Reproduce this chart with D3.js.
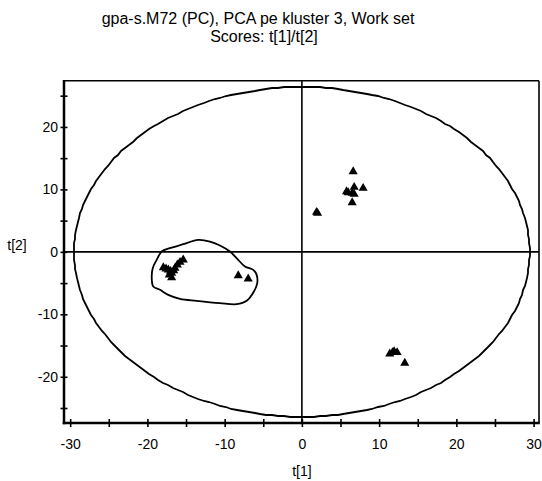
<!DOCTYPE html>
<html>
<head>
<meta charset="utf-8">
<script src="https://cdn.jsdelivr.net/npm/d3@7"></script>
<style>
  html, body { margin: 0; padding: 0; background: #fff; }
  svg { display: block; }
  text { font-family: "Liberation Sans", Arial, sans-serif; fill: #000; }
</style>
</head>
<body>
<svg id="chart" width="542" height="481"></svg>
<script>
// ---- data ----
const titleLines = ["gpa-s.M72 (PC), PCA pe kluster 3, Work set", "Scores: t[1]/t[2]"];
const xLabel = "t[1]";
const yLabel = "t[2]";
const xDomain = [-30.8, 30.7];
const yDomain = [-27.4, 27.4];
const xTicks = [-30, -25, -20, -15, -10, -5, 0, 5, 10, 15, 20, 25, 30];
const xTickLabels = [-30, -20, -10, 0, 10, 20, 30];
const yTicks = [-25, -20, -15, -10, -5, 0, 5, 10, 15, 20, 25];
const yTickLabels = [-20, -10, 0, 10, 20];

// score values t[1]
const t1 = [
  -17.94, -17.59, -17.30, -17.17, -16.86, -16.86, -16.43, -16.13, -15.78, -15.36, -17.0, -16.6,
  -8.24, -6.95,
  6.64, 5.78, 5.99, 6.77, 6.51, 6.77, 7.93, 6.51, 2.03, 1.90,
  11.38, 11.73, 11.94, 12.33, 13.32
];
// score values t[2]
const t2 = [
  -2.51, -2.72, -2.88, -3.68, -3.41, -4.11, -2.61, -2.08, -1.65, -1.28, -3.1, -3.0,
  -3.79, -4.32,
  12.85, 9.65, 9.49, 10.35, 9.39, 9.23, 10.19, 7.89, 6.19, 6.35,
  -16.32, -16.11, -15.95, -16.11, -17.81
];

// hand-drawn group outline (t[1], t[2])
const outlineX = [-18.15, -17.08, -15.36, -13.42, -11.90, -10.61, -9.31, -8.45, -7.37, -6.30, -5.86, -5.78,
  -6.21, -7.15, -8.45, -10.61, -13.62, -15.78, -17.30, -18.37, -19.24, -19.44, -19.31, -18.80];
const outlineY = [0.05, 0.59, 1.23, 1.92, 1.65, 1.01, 0.05, -1.01, -2.35, -2.88, -3.68, -5.01,
  -6.35, -7.84, -8.37, -8.21, -7.84, -7.52, -6.88, -6.08, -5.55, -4.21, -2.61, -1.28];

// Hotelling T2 ellipse semi-axes
const ellipseA = 29.5;
const ellipseB = 26.4;

// ---- drawing ----
const svg = d3.select("#chart");
const plot = { left: 64, right: 539, top: 80.7, bottom: 423 };

const x = d3.scaleLinear().domain(xDomain).range([plot.left, plot.right]);
const y = d3.scaleLinear().domain(yDomain).range([plot.bottom, plot.top]);

// title
svg.append("text").attr("x", 258).attr("y", 24).attr("text-anchor", "middle")
  .style("font-size", "16px").text(titleLines[0]);
svg.append("text").attr("x", 264).attr("y", 42).attr("text-anchor", "middle")
  .style("font-size", "16px").text(titleLines[1]);

// zero lines
svg.append("line").attr("x1", plot.left).attr("x2", plot.right)
  .attr("y1", y(0)).attr("y2", y(0)).attr("stroke", "#000").attr("stroke-width", 1.6);
svg.append("line").attr("x1", x(0)).attr("x2", x(0))
  .attr("y1", plot.top).attr("y2", plot.bottom).attr("stroke", "#000").attr("stroke-width", 1.6);

// ellipse
const ellPts = d3.range(0, 361, 1.5).map(a => {
  const r = a * Math.PI / 180;
  return [Math.round(x(ellipseA * Math.cos(r))), Math.round(y(ellipseB * Math.sin(r)))];
});
svg.append("path").attr("d", d3.line()(ellPts))
  .attr("fill", "none").attr("stroke", "#000").attr("stroke-width", 1.8);

// outline
const outlinePts = outlineX.map((v, i) => [x(v), y(outlineY[i])]);
svg.append("path").attr("d", d3.line().curve(d3.curveCatmullRomClosed.alpha(0.5))(outlinePts))
  .attr("fill", "none").attr("stroke", "#000").attr("stroke-width", 1.8);

// points
const sym = d3.symbol().type(d3.symbolTriangle).size(36);
svg.append("g").selectAll("path").data(t1).join("path")
  .attr("transform", (d, i) => `translate(${x(d)},${y(t2[i])})`)
  .attr("d", sym).attr("fill", "#000");

// frame
svg.append("line").attr("x1", plot.left).attr("x2", plot.right).attr("y1", plot.top).attr("y2", plot.top)
  .attr("stroke", "#000").attr("stroke-width", 1.6);
svg.append("line").attr("x1", plot.right).attr("x2", plot.right).attr("y1", plot.top).attr("y2", plot.bottom)
  .attr("stroke", "#000").attr("stroke-width", 1.6);

// bottom axis
const xAxis = d3.axisBottom(x).tickValues(xTicks).tickSizeOuter(0).tickSizeInner(4)
  .tickFormat(d => xTickLabels.includes(d) ? String(d) : "");
const gx = svg.append("g").attr("transform", `translate(0,${plot.bottom})`).call(xAxis);
gx.select(".domain").remove();
gx.selectAll(".tick line").attr("y1", -4).attr("y2", 4).attr("stroke-width", 1.6);
gx.selectAll(".tick text").attr("y", 16).attr("dy", "0.71em").style("font-size", "14px").attr("font-family", null);
svg.append("line").attr("x1", plot.left - 1.25).attr("x2", plot.right + 0.8)
  .attr("y1", plot.bottom).attr("y2", plot.bottom).attr("stroke", "#000").attr("stroke-width", 2.5);

// left axis
const yAxis = d3.axisLeft(y).tickValues(yTicks).tickSizeOuter(0).tickSizeInner(4)
  .tickFormat(d => yTickLabels.includes(d) ? String(d) : "");
const gy = svg.append("g").attr("transform", `translate(${plot.left},0)`).call(yAxis);
gy.select(".domain").remove();
gy.selectAll(".tick line").attr("x1", -3.5).attr("x2", 3.5).attr("stroke-width", 1.6);
gy.selectAll(".tick text").attr("x", -6).style("font-size", "14px").attr("font-family", null);
svg.append("line").attr("x1", plot.left).attr("x2", plot.left)
  .attr("y1", plot.top - 0.8).attr("y2", plot.bottom + 1.25).attr("stroke", "#000").attr("stroke-width", 2.5);

// axis titles
svg.append("text").attr("x", x(0)).attr("y", 476).attr("text-anchor", "middle")
  .style("font-size", "14px").text(xLabel);
svg.append("text").attr("x", 17).attr("y", 250).attr("text-anchor", "middle")
  .style("font-size", "14px").text(yLabel);
</script>
</body>
</html>
